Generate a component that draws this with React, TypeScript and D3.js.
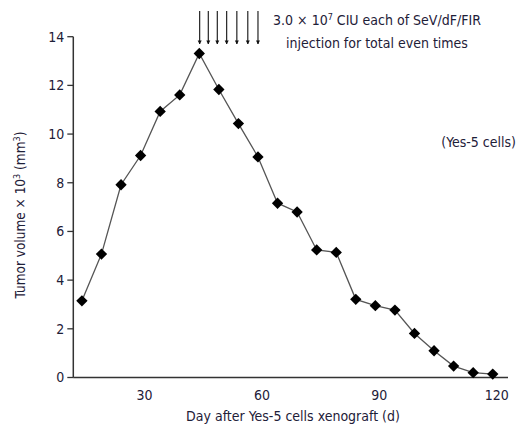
import React from "react";
import * as d3 from "d3";

const days = [14, 19, 24, 29, 34, 39, 44, 49, 54, 59, 64, 69, 74, 79, 84, 89, 94, 99, 104, 109, 114, 119];
const volumes = [3.15, 5.07, 7.92, 9.12, 10.93, 11.61, 13.31, 11.83, 10.43, 9.06, 7.16, 6.8, 5.24, 5.14, 3.21, 2.95, 2.77, 1.81, 1.1, 0.47, 0.2, 0.14];
const injectionDays = [44.1, 46.3, 48.6, 51.0, 53.6, 56.4, 59.0];
const xTicks = [30, 60, 90, 120];
const yTicks = [0, 2, 4, 6, 8, 10, 12, 14];

const FONT = "Tahoma, 'DejaVu Sans Condensed', 'DejaVu Sans', sans-serif";
const TEXT = "#1e2038";

export default function App() {
  const x = d3.scaleLinear().domain([11.8, 122.9]).range([73.3, 508]);
  const y = d3.scaleLinear().domain([0, 14]).range([377.5, 36.7]);
  const pts = days.map((d, i) => [d, volumes[i]] as [number, number]);
  const line = d3.line<[number, number]>().x((p) => x(p[0])).y((p) => y(p[1]));
  const diamond = d3.symbol().type(d3.symbolDiamond2).size(82)() as string;
  const xAxisY = y(0);
  const xLeft = x.range()[0];
  const xRight = x.range()[1];

  return (
    <svg width={518} height={425} style={{ position: "absolute", left: 0, top: 0, background: "#fff" }}>
      <defs>
        <marker id="ah" viewBox="0 0 10 10" refX="9" refY="5" markerWidth="4" markerHeight="5" orient="auto" markerUnits="userSpaceOnUse">
          <path d="M0,0 L10,5 L0,10 z" fill="#111" />
        </marker>
      </defs>
      {/* axes */}
      <line x1={xLeft} x2={xLeft} y1={y(14)} y2={xAxisY} stroke="#333" strokeWidth={1.5} />
      <line x1={xLeft} x2={xRight} y1={xAxisY} y2={xAxisY} stroke="#333" strokeWidth={1.5} />
      {yTicks.map((t) => (
        <g key={t}>
          <line x1={xLeft - 6} x2={xLeft} y1={y(t)} y2={y(t)} stroke="#333" strokeWidth={1.3} />
          <text x={xLeft - 9} y={y(t)} dy="0.35em" textAnchor="end" fontFamily={FONT} fontSize={14} fill={TEXT}>
            {t}
          </text>
        </g>
      ))}
      {xTicks.map((t) => (
        <text key={t} x={x(t)} y={xAxisY + 18} dy="0.35em" textAnchor="middle" fontFamily={FONT} fontSize={14} fill={TEXT}>
          {t}
        </text>
      ))}
      <text x={293} y={416} dy="0.35em" textAnchor="middle" fontFamily={FONT} fontSize={14} fill={TEXT}>
        Day after Yes-5 cells xenograft (d)
      </text>
      <text transform="translate(20,215) rotate(-90)" dy="0.35em" textAnchor="middle" fontFamily={FONT} fontSize={13.5} fill={TEXT}>
        Tumor volume × 10<tspan dy="-5" fontSize={9}>3</tspan>
        <tspan dy="5"> (mm</tspan>
        <tspan dy="-5" fontSize={9}>3</tspan>
        <tspan dy="5">)</tspan>
      </text>
      {/* data */}
      <path d={line(pts) as string} fill="none" stroke="#555" strokeWidth={1.3} />
      {pts.map((p, i) => (
        <path key={i} d={diamond} transform={`translate(${x(p[0])},${y(p[1])})`} fill="#000" />
      ))}
      {/* injection arrows */}
      {injectionDays.map((d, i) => (
        <line key={i} x1={x(d)} x2={x(d)} y1={11} y2={44} stroke="#111" strokeWidth={1.1} markerEnd="url(#ah)" />
      ))}
      <text x={377} y={20} dy="0.35em" textAnchor="middle" fontFamily={FONT} fontSize={14} fill={TEXT}>
        3.0 × 10<tspan dy="-5" fontSize={9}>7</tspan>
        <tspan dy="5"> CIU each of SeV/dF/FIR</tspan>
      </text>
      <text x={377} y={43} dy="0.35em" textAnchor="middle" fontFamily={FONT} fontSize={14} fill={TEXT}>
        injection for total even times
      </text>
      <text x={516} y={142} dy="0.35em" textAnchor="end" fontFamily={FONT} fontSize={14} fill={TEXT}>
        (Yes-5 cells)
      </text>
    </svg>
  );
}
